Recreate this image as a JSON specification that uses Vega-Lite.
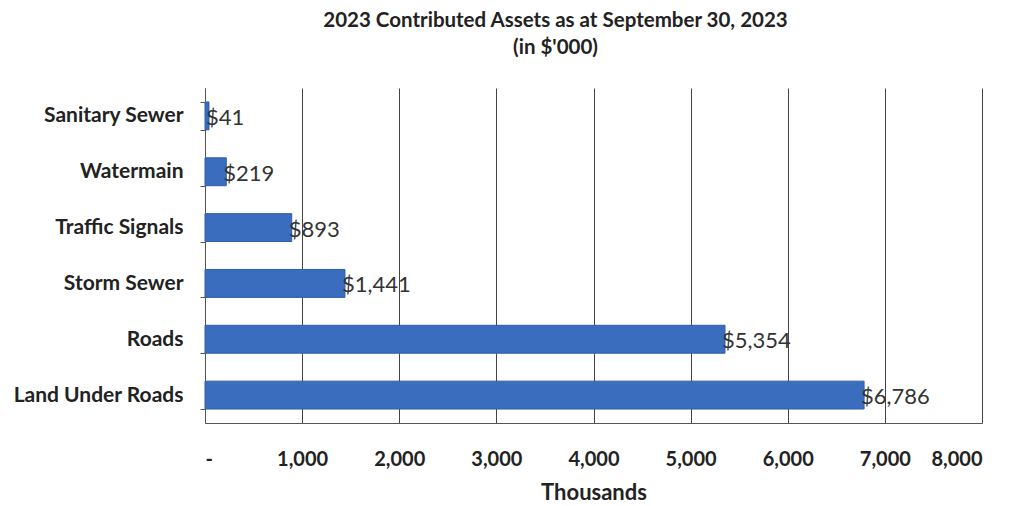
{
  "$schema": "https://vega.github.io/schema/vega-lite/v6.json",
  "autosize": {"type": "none"},
  "width": 777,
  "height": 335,
  "padding": {"left": 205, "top": 88, "right": 29, "bottom": 83},
  "background": "white",
  "config": {
    "font": "Lato",
    "view": {"stroke": null}
  },
  "title": {
    "text": ["2023 Contributed Assets as at September 30, 2023", "(in $'000)"],
    "font": "Lato",
    "fontSize": 20.5,
    "fontWeight": "bold",
    "color": "#222",
    "lineHeight": 27,
    "anchor": "middle",
    "dx": -38,
    "dy": 4,
    "offset": 23
  },
  "data": {
    "values": [
      {"asset": "Sanitary Sewer", "value": 41, "label": "$41"},
      {"asset": "Watermain", "value": 219, "label": "$219"},
      {"asset": "Traffic Signals", "value": 893, "label": "$893"},
      {"asset": "Storm Sewer", "value": 1441, "label": "$1,441"},
      {"asset": "Roads", "value": 5354, "label": "$5,354"},
      {"asset": "Land Under Roads", "value": 6786, "label": "$6,786"}
    ]
  },
  "encoding": {
    "y": {
      "field": "asset",
      "type": "nominal",
      "sort": null,
      "scale": {"paddingInner": 0.5, "paddingOuter": 0.25},
      "axis": {
        "title": null,
        "labelFont": "Lato",
        "labelFontSize": 21,
        "labelFontWeight": "bold",
        "labelColor": "#222",
        "labelPadding": 17,
        "tickBand": "extent",
        "tickSize": 5,
        "tickColor": "#555",
        "domainColor": "#555",
        "grid": false
      }
    },
    "x": {
      "field": "value",
      "type": "quantitative",
      "scale": {"domain": [0, 8000], "nice": false},
      "axis": {
        "title": "Thousands",
        "titleFont": "Lato",
        "titleFontSize": 22,
        "titleFontWeight": "bold",
        "titleColor": "#222",
        "titlePadding": 13,
        "values": [0, 1000, 2000, 3000, 4000, 5000, 6000, 7000, 8000],
        "labelExpr": "datum.value == 0 ? '-' : format(datum.value, ',')",
        "labelFont": "Lato",
        "labelFontSize": 20,
        "labelFontWeight": "bold",
        "labelColor": "#222",
        "labelPadding": 26,
        "ticks": false,
        "grid": true,
        "gridColor": "#444",
        "gridOpacity": 1,
        "gridWidth": 1,
        "domainColor": "#555"
      }
    }
  },
  "layer": [
    {
      "mark": {"type": "bar", "color": "#3b6dbf", "stroke": "#2f5ea8", "strokeWidth": 1}
    },
    {
      "mark": {"type": "text", "align": "left", "baseline": "middle", "dx": -3, "dy": 2, "fontSize": 22, "color": "#333", "font": "Lato"},
      "encoding": {"text": {"field": "label"}}
    }
  ]
}
